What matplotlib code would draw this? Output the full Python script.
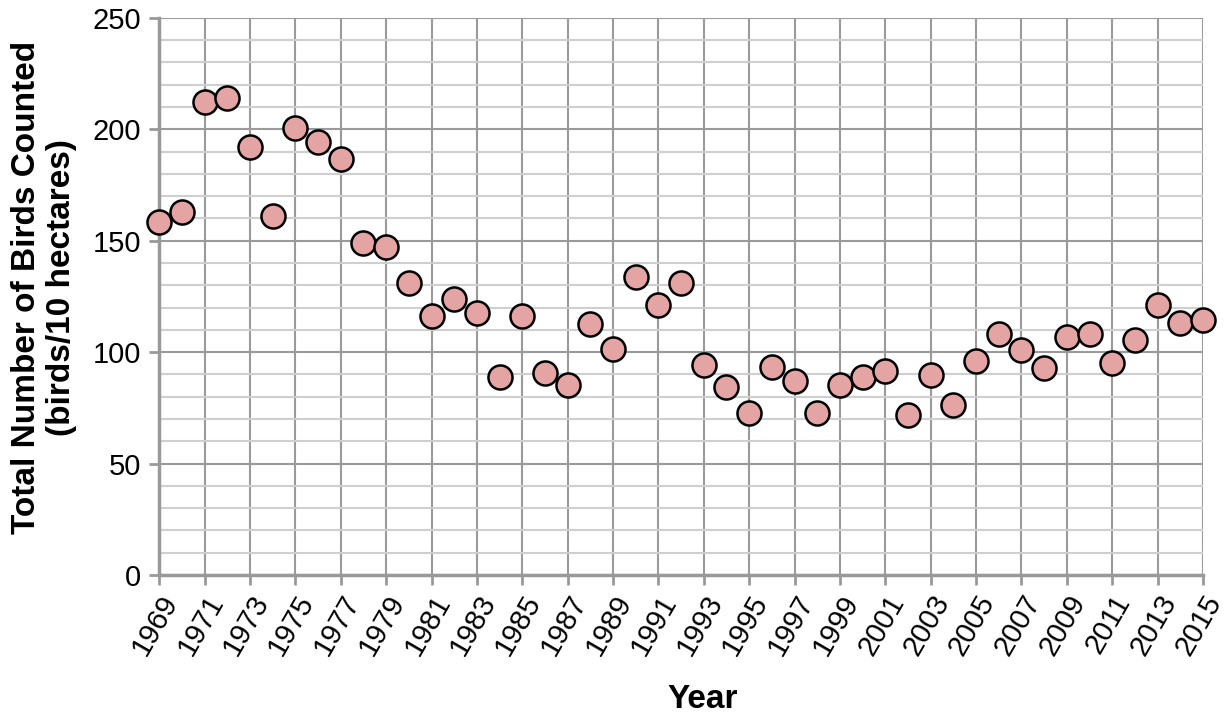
import matplotlib
matplotlib.use("Agg")
import matplotlib.pyplot as plt
import numpy as np

plt.rcParams['font.family'] = ['Liberation Sans', 'DejaVu Sans']

years = list(range(1969, 2016))
birds = [158.6, 162.8, 212.2, 214.1, 192.1, 161.1, 200.5, 194.2, 186.7, 149.1,
         147.4, 131.2, 116.2, 123.9, 117.6, 89.0, 116.2, 90.5, 85.3, 112.7,
         101.6, 133.9, 121.0, 131.2, 94.2, 84.5, 72.6, 93.5, 87.1, 72.6,
         85.3, 89.0, 91.7, 71.8, 89.8, 76.3, 96.2, 108.2, 101.0, 92.8,
         106.6, 108.2, 95.3, 105.5, 121.2, 113.2, 114.5]
xtick_years = list(range(1969, 2016, 2))

fig = plt.figure(figsize=(12.25, 7.17), dpi=100)
ax = fig.add_axes([0.130, 0.198, 0.852, 0.777])

ax.scatter(years, birds, s=300, color='#e3a4a3', edgecolor='black',
           linewidth=1.8, zorder=3, clip_on=False)

ax.set_xlim(1969, 2015)
ax.set_ylim(0, 250)
ax.set_xticks(xtick_years)
ax.set_xticklabels([str(y) for y in xtick_years], rotation=60,
                   ha='right', rotation_mode='anchor', fontsize=21)
ax.set_yticks(np.arange(0, 251, 50))
ax.set_yticks(np.arange(0, 251, 10), minor=True)
ax.tick_params(axis='y', which='major', labelsize=21, length=7,
               width=2, color='#999999', pad=6)
ax.tick_params(axis='y', which='minor', length=0)
ax.tick_params(axis='x', which='major', length=7, width=2,
               color='#999999', pad=4)

ax.grid(True, which='minor', axis='y', color='#cfcfcf', linewidth=1.5)
ax.grid(True, which='major', axis='y', color='#9a9a9a', linewidth=1.5)
ax.grid(True, which='major', axis='x', color='#9a9a9a', linewidth=1.5)
ax.set_axisbelow(True)

for side in ['top', 'right']:
    ax.spines[side].set_visible(False)
for side in ['left', 'bottom']:
    ax.spines[side].set_color('#999999')
    ax.spines[side].set_linewidth(2.5)

ax.set_ylabel('Total Number of Birds Counted\n(birds/10 hectares)',
              fontsize=24, fontweight='bold', linespacing=1.15)
ax.yaxis.set_label_coords(-0.079, 0.516)
ax.set_xlabel('Year', fontsize=24, fontweight='bold')
ax.xaxis.set_label_coords(0.521, -0.195)

fig.savefig('out.png', dpi=100)
